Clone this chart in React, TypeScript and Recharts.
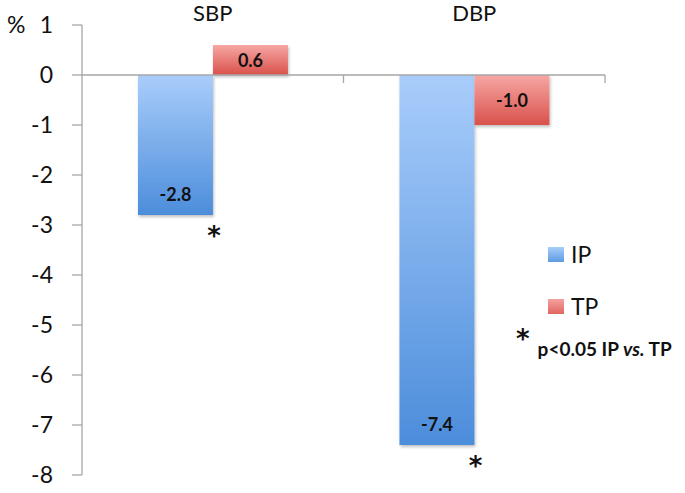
import { BarChart, Bar, XAxis, YAxis, LabelList, ReferenceLine, Legend, Label } from 'recharts'

const categories = ['SBP', 'DBP']
const ipValues = [-2.8, -7.4]
const tpValues = [0.6, -1.0]
const significant = [true, true]
const yTicks = [1, 0, -1, -2, -3, -4, -5, -6, -7, -8]

const data = categories.map((name, i) => ({ name, IP: ipValues[i], TP: tpValues[i], sig: significant[i] }))

const FONT = 'Lato, "Open Sans", sans-serif'
const STAR = '"DejaVu Sans", sans-serif'
const AXIS = '#a6a6a6'

const barLabel = (offset: number | null) => (props: any) => {
  const { x, y, width, height, value } = props
  const top = Math.min(y, y + height)
  const bottom = Math.max(y, y + height)
  const cy = offset == null ? (top + bottom) / 2 : bottom - offset
  return (
    <text x={x + width / 2} y={cy} textAnchor="middle" dominantBaseline="central"
      fontFamily={FONT} fontWeight={700} fontSize={18} fill="#111">
      {value.toFixed(1)}
    </text>
  )
}

const starLabel = (props: any) => {
  const { x, y, width, height, index } = props
  if (!data[index].sig) return null
  const bottom = Math.max(y, y + height)
  return (
    <text x={x + width + 1} y={bottom + 30} textAnchor="middle"
      fontFamily={STAR} fontWeight={700} fontSize={26} fill="#111">*</text>
  )
}

const zeroLine = (props: any) => {
  const { x1, x2, y1 } = props
  const step = (x2 - x1) / categories.length
  return (
    <g stroke={AXIS} strokeWidth={1.3}>
      <line x1={x1} x2={x2} y1={y1} y2={y1} />
      {categories.map((_, i) => (
        <line key={i} x1={x1 + step * (i + 1)} x2={x1 + step * (i + 1)} y1={y1} y2={y1 + 8} />
      ))}
    </g>
  )
}

const legendContent = () => (
  <div style={{ fontFamily: FONT, color: '#111', position: 'relative', width: 140, height: 130 }}>
    {[['IP', '#a9cdfb', '#5d9ae2'], ['TP', '#f4a19e', '#e06661']].map(([name, c1, c2], i) => (
      <div key={name} style={{ position: 'absolute', left: 0, top: i * 52, display: 'flex', alignItems: 'center' }}>
        <div style={{ width: 16, height: 15, background: `linear-gradient(${c1}, ${c2})` }} />
        <span style={{ fontSize: 23, marginLeft: 7 }}>{name}</span>
      </div>
    ))}
    <div style={{ position: 'absolute', left: -32, top: 84, display: 'flex', alignItems: 'flex-start' }}>
      <span style={{ fontFamily: STAR, fontSize: 26, fontWeight: 700, lineHeight: '30px' }}>*</span>
      <span style={{ fontSize: 19, fontWeight: 700, marginLeft: 8, marginTop: 13, whiteSpace: 'nowrap' }}>
        p&lt;0.05 IP <i>vs.</i> TP
      </span>
    </div>
  </div>
)

export default function App() {
  return (
    <div style={{ position: 'absolute', left: 0, top: 0, background: '#fff' }}>
      <BarChart width={685} height={493} data={data} margin={{ top: 0, right: 80, bottom: 18, left: 0 }}
        barCategoryGap="21.4%" barGap={0}>
        <defs>
          <linearGradient id="gIP" x1="0" y1="0" x2="0" y2="1">
            <stop offset="0%" stopColor="#a9cdfb" />
            <stop offset="100%" stopColor="#4c8ddb" />
          </linearGradient>
          <linearGradient id="gTP" x1="0" y1="0" x2="0" y2="1">
            <stop offset="0%" stopColor="#f6a7a4" />
            <stop offset="100%" stopColor="#d9514b" />
          </linearGradient>
          <filter id="shadow" x="-10%" y="-10%" width="130%" height="130%">
            <feDropShadow dx="1" dy="2" stdDeviation="1.5" floodColor="#000" floodOpacity="0.25" />
          </filter>
        </defs>
        <XAxis dataKey="name" orientation="top" height={25} axisLine={false} tickLine={false}
          tickSize={0} tickMargin={4} tick={{ fontSize: 22, fill: '#111', fontFamily: FONT }} interval={0} />
        <YAxis type="number" domain={[-8, 1]} ticks={yTicks} width={82} interval={0}
          axisLine={{ stroke: AXIS, strokeWidth: 1.3 }} tickLine={{ stroke: AXIS, strokeWidth: 1.3 }}
          tickSize={10} tickMargin={19} tick={{ fontSize: 23, fill: '#111', fontFamily: FONT }}>
          <Label content={() => (
            <text x={7} y={33} fontFamily={FONT} fontSize={23} fill="#111">%</text>
          )} />
        </YAxis>
        <ReferenceLine y={0} shape={zeroLine} />
        <Legend layout="horizontal" verticalAlign="middle" align="center" content={legendContent}
          wrapperStyle={{ left: 548, top: 240, width: 140 }} />
        <Bar dataKey="IP" fill="url(#gIP)" filter="url(#shadow)" isAnimationActive={false}>
          <LabelList dataKey="IP" content={barLabel(21)} />
          <LabelList dataKey="IP" content={starLabel} />
        </Bar>
        <Bar dataKey="TP" fill="url(#gTP)" filter="url(#shadow)" isAnimationActive={false}>
          <LabelList dataKey="TP" content={barLabel(null)} />
        </Bar>
      </BarChart>
    </div>
  )
}
